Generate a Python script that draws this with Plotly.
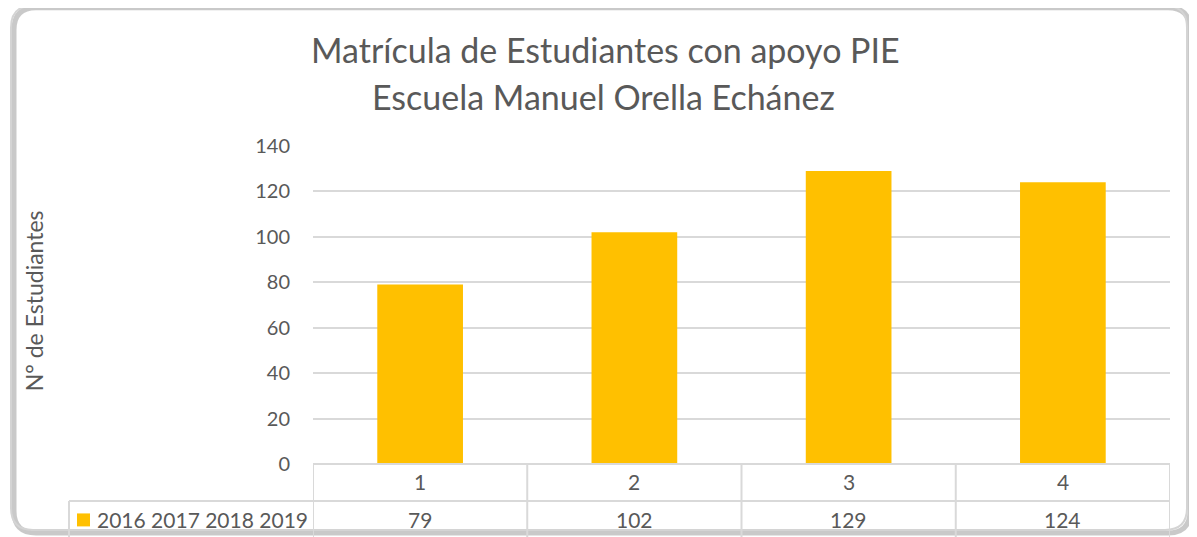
import plotly.graph_objects as go

# ---- data ----
categories = ["1", "2", "3", "4"]
values = [79, 102, 129, 124]
series_name = "2016 2017 2018 2019"
title_lines = ["Matrícula de Estudiantes con apoyo PIE", "Escuela Manuel Orella Echánez"]
y_title = "N° de Estudiantes"
y_ticks = [0, 20, 40, 60, 80, 100, 120, 140]

OFF = 8  # page body margin
W, H = 1197 - OFF, 537 - OFF
# plot area in screen pixels
SL, SR, ST, SB = 313, 1170, 145.5, 464
L, R, T, B = SL - OFF, SR - OFF, ST - OFF, SB - OFF
FONT = "Lato"
TXT = "#595959"
GRID = "#d9d9d9"
BAR = "#FFC000"

def xp(px):  # screen px -> paper
    return (px - SL) / (SR - SL)

def yp(py):
    return (SB - py) / (SB - ST)

fig = go.Figure()
fig.add_trace(go.Bar(x=categories, y=values, name=series_name,
                     marker=dict(color=BAR, line=dict(width=0)),
                     showlegend=False, hoverinfo="x+y"))

shapes = []
annotations = []

def rrect(x0, y0, x1, y1, r):
    rx = r / (SR - SL)
    ry = r / (SB - ST)
    X0, X1 = xp(x0), xp(x1)
    Y0, Y1 = yp(y0), yp(y1)
    return (f"M {X0+rx},{Y0} L {X1-rx},{Y0} Q {X1},{Y0} {X1},{Y0-ry} "
            f"L {X1},{Y1+ry} Q {X1},{Y1} {X1-rx},{Y1} L {X0+rx},{Y1} "
            f"Q {X0},{Y1} {X0},{Y1+ry} L {X0},{Y0-ry} Q {X0},{Y0} {X0+rx},{Y0} Z")

shapes.append(dict(type="path", xref="paper", yref="paper", layer="below",
                   path=rrect(14, 7, 1190, 533, 22),
                   line=dict(color="#8a8a8a", width=5), opacity=0.45))
shapes.append(dict(type="path", xref="paper", yref="paper", layer="below",
                   path=rrect(11, 5, 1187, 530, 22),
                   line=dict(color="#d4d4d4", width=2)))

# data table lines
row_mid = 501
row_bot = 545
shapes.append(dict(type="line", xref="paper", yref="paper",
                   x0=0, x1=1, y0=yp(SB), y1=yp(SB), line=dict(color=GRID, width=2)))
shapes.append(dict(type="line", xref="paper", yref="paper",
                   x0=xp(69), x1=1, y0=yp(row_mid), y1=yp(row_mid), line=dict(color=GRID, width=2)))
for i in range(len(categories) + 1):
    shapes.append(dict(type="line", xref="x", yref="paper",
                       x0=i - 0.5, x1=i - 0.5, y0=yp(SB), y1=yp(row_bot),
                       line=dict(color=GRID, width=2)))
shapes.append(dict(type="line", xref="paper", yref="paper",
                   x0=xp(69), x1=xp(69), y0=yp(row_mid), y1=yp(row_bot),
                   line=dict(color=GRID, width=2)))

# table contents
for i, (c, v) in enumerate(zip(categories, values)):
    annotations.append(dict(x=i, y=yp(482), xref="x", yref="paper", text=c,
                            showarrow=False, font=dict(family=FONT, size=21, color=TXT),
                            xanchor="center", yanchor="middle"))
    annotations.append(dict(x=i, y=yp(520), xref="x", yref="paper", text=str(v),
                            showarrow=False, font=dict(family=FONT, size=21, color=TXT),
                            xanchor="center", yanchor="middle"))

# legend key in table
shapes.append(dict(type="rect", xref="paper", yref="paper",
                   x0=xp(77), x1=xp(90), y0=yp(513.5), y1=yp(526.5),
                   fillcolor=BAR, line=dict(width=0)))
annotations.append(dict(x=xp(95), y=yp(520), xref="paper", yref="paper", text=series_name,
                        showarrow=False, font=dict(family=FONT, size=21, color=TXT),
                        xanchor="left", yanchor="middle"))

# titles
annotations.append(dict(x=xp(605), y=yp(49), xref="paper", yref="paper", text=title_lines[0],
                        showarrow=False, font=dict(family=FONT, size=34, color=TXT),
                        xanchor="center", yanchor="middle"))
annotations.append(dict(x=xp(603), y=yp(96), xref="paper", yref="paper", text=title_lines[1],
                        showarrow=False, font=dict(family=FONT, size=34, color=TXT),
                        xanchor="center", yanchor="middle"))
annotations.append(dict(x=xp(34), y=yp(301), xref="paper", yref="paper", text=y_title,
                        showarrow=False, textangle=-90,
                        font=dict(family=FONT, size=23, color=TXT),
                        xanchor="center", yanchor="middle"))

fig.update_layout(
    width=W, height=H,
    margin=dict(l=L, r=W - R, t=T, b=H - B, pad=0),
    paper_bgcolor="white", plot_bgcolor="white",
    bargap=0.6,
    shapes=shapes, annotations=annotations,
    xaxis=dict(type="category", range=[-0.5, len(categories) - 0.5],
               showticklabels=False, showgrid=False, zeroline=False,
               showline=False, ticks=""),
    yaxis=dict(range=[0, 140], tickvals=y_ticks, showgrid=True, gridcolor=GRID,
               gridwidth=2, zeroline=False, showline=False, ticks="",
               tickfont=dict(family=FONT, size=20, color=TXT), ticklabelstandoff=22),
    font=dict(family=FONT, color=TXT),
)

fig.write_html("out.html")
